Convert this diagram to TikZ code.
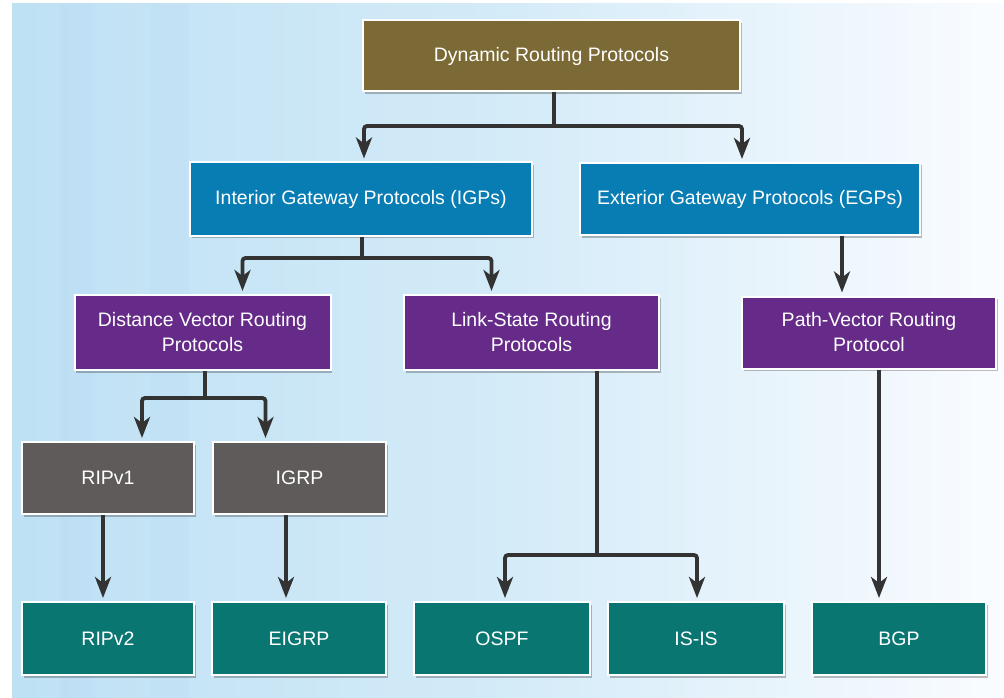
\documentclass[tikz,border=0pt]{standalone}
\usepackage{fontspec}
\setmainfont{Liberation Sans}
\usetikzlibrary{arrows.meta,shadows}
\definecolor{olivebox}{RGB}{123,106,53}
\definecolor{bluebox}{RGB}{8,125,180}
\definecolor{purplebox}{RGB}{102,43,136}
\definecolor{graybox}{RGB}{96,91,91}
\definecolor{tealbox}{RGB}{9,118,114}
\definecolor{linegray}{RGB}{51,51,51}
\definecolor{bgleft}{RGB}{190,225,244}
\definecolor{bgmid}{RGB}{212,235,248}
\definecolor{bgright}{RGB}{250,252,255}
\tikzset{
  box/.style={draw=white, line width=2pt, inner sep=0pt, align=center,
    text=white, font=\fontsize{19.5}{25}\selectfont,
    drop shadow={shadow xshift=1.5pt, shadow yshift=-2.5pt, fill=black, opacity=0.25}},
  arr/.style={draw=linegray, line width=3.8pt, rounded corners=3pt,
    -{Stealth[length=21pt,width=16pt,inset=6pt]}},
  ln/.style={draw=linegray, line width=3.8pt, rounded corners=3pt}
}
\begin{document}
\begin{tikzpicture}[x=1pt,y=-1pt]
\useasboundingbox (0,0) rectangle (1004,698);
\fill[white] (0,0) rectangle (1004,698);
\shade[left color=bgleft, right color=bgright, middle color=bgmid] (12,4) rectangle (1004,698);
\fill[bgleft!85!blue, opacity=0.08] (60,4) rectangle (95,698);
\fill[bgleft!85!blue, opacity=0.06] (150,4) rectangle (190,698);

% level 0
\node[box, fill=olivebox, minimum width=377pt, minimum height=71pt] (top) at (551.5,56) {Dynamic Routing Protocols};
% level 1
\node[box, fill=bluebox, minimum width=342pt, minimum height=73pt] (igp) at (361,199) {Interior Gateway Protocols (IGPs)};
\node[box, fill=bluebox, minimum width=340pt, minimum height=72pt] (egp) at (750,199) {Exterior Gateway Protocols (EGPs)};
% level 2
\node[box, fill=purplebox, minimum width=256pt, minimum height=75pt] (dv) at (202.5,332.5) {Distance Vector Routing\\Protocols};
\node[box, fill=purplebox, minimum width=255pt, minimum height=75pt] (ls) at (531.5,332.5) {Link-State Routing\\Protocols};
\node[box, fill=purplebox, minimum width=254pt, minimum height=72pt] (pv) at (869,332.5) {Path-Vector Routing\\Protocol};
% level 3
\node[box, fill=graybox, minimum width=172pt, minimum height=72pt] (rip1) at (108,478) {RIPv1};
\node[box, fill=graybox, minimum width=173pt, minimum height=72pt] (igrp) at (299.5,478) {IGRP};
% level 4
\node[box, fill=tealbox, minimum width=172pt, minimum height=73pt] (rip2) at (108,638.5) {RIPv2};
\node[box, fill=tealbox, minimum width=174pt, minimum height=73pt] (eigrp) at (299,638.5) {EIGRP};
\node[box, fill=tealbox, minimum width=176pt, minimum height=73pt] (ospf) at (502,638.5) {OSPF};
\node[box, fill=tealbox, minimum width=176pt, minimum height=73pt] (isis) at (696,638.5) {IS-IS};
\node[box, fill=tealbox, minimum width=174pt, minimum height=73pt] (bgp) at (899,638.5) {BGP};

% connectors
\coordinate (j0) at (554,126);
\draw[ln] ([xshift=2.5pt]top.south) -- (j0);
\draw[arr] (j0) -| ([xshift=3pt,yshift=3pt]igp.north);
\draw[arr] (j0) -| ([xshift=-8pt,yshift=3pt]egp.north);

\coordinate (j1) at (362,258);
\draw[ln] ([xshift=1pt]igp.south) -- (j1);
\draw[arr] (j1) -| ([xshift=40pt,yshift=3pt]dv.north);
\draw[arr] (j1) -| ([xshift=-40pt,yshift=3pt]ls.north);

\draw[arr] ([xshift=92pt]egp.south) -- ([xshift=-27pt,yshift=3pt]pv.north);

\coordinate (j2) at (205,398);
\draw[ln] ([xshift=2.5pt]dv.south) -- (j2);
\draw[arr] (j2) -| ([xshift=34pt,yshift=3pt]rip1.north);
\draw[arr] (j2) -| ([xshift=-34pt,yshift=3pt]igrp.north);

\draw[arr] ([xshift=-5pt]rip1.south) -- ([xshift=-5pt,yshift=3pt]rip2.north);
\draw[arr] ([xshift=-13.5pt]igrp.south) -- ([xshift=-13pt,yshift=3pt]eigrp.north);

\coordinate (j3) at (597,555);
\draw[ln] ([xshift=65.5pt]ls.south) -- (j3);
\draw[arr] (j3) -| ([xshift=3pt,yshift=3pt]ospf.north);
\draw[arr] (j3) -| ([xshift=1pt,yshift=3pt]isis.north);

\draw[arr] ([xshift=10pt]pv.south) -- ([xshift=-20pt,yshift=3pt]bgp.north);
\end{tikzpicture}
\end{document}
